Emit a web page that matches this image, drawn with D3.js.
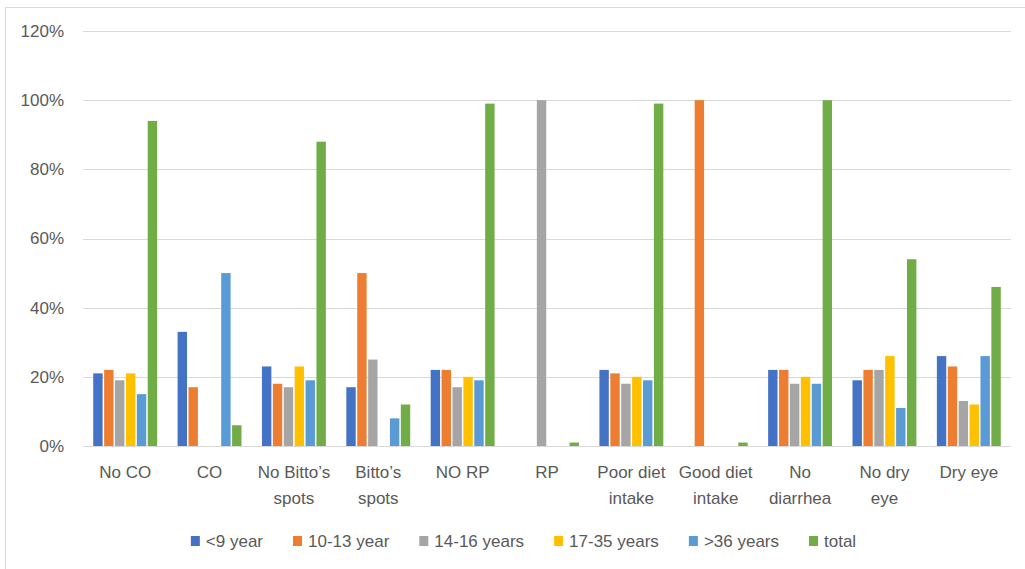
<!DOCTYPE html>
<html>
<head>
<meta charset="utf-8">
<script src="https://cdn.jsdelivr.net/npm/d3@7"></script>
<style>
  body { margin: 0; background: #fff; }
  text { font-family: "Liberation Sans", Arial, sans-serif; fill: #595959; }
</style>
</head>
<body>
<script>
// categories (each label already split into its lines) --
const categories = ["No CO", "CO", "No Bitto’s spots", "Bitto’s spots", "NO RP", "RP",
  "Poor diet intake", "Good diet intake", "No diarrhea", "No dry eye", "Dry eye"];
const catLines = [["No CO"], ["CO"], ["No Bitto’s", "spots"], ["Bitto’s", "spots"], ["NO RP"], ["RP"],
  ["Poor diet", "intake"], ["Good diet", "intake"], ["No", "diarrhea"], ["No dry", "eye"], ["Dry eye"]];

// series, values in % --
const seriesNames = ["<9 year", "10-13 year", "14-16 years", "17-35 years", ">36 years", "total"];
const under9   = [21, 33, 23, 17, 22, 0, 22, 0, 22, 19, 26];
const y10to13  = [22, 17, 18, 50, 22, 0, 21, 100, 22, 22, 23];
const y14to16  = [19, 0, 17, 25, 17, 100, 18, 0, 18, 22, 13];
const y17to35  = [21, 0, 23, 0, 20, 0, 20, 0, 20, 26, 12];
const over36   = [15, 50, 19, 8, 19, 0, 19, 0, 18, 11, 26];
const total    = [94, 6, 88, 12, 99, 1, 99, 1, 100, 54, 46];
const yTicks   = [0, 20, 40, 60, 80, 100, 120];

const colors = ["#4472C4", "#ED7D31", "#A5A5A5", "#FFC000", "#5B9BD5", "#70AD47"];
const seriesValues = [under9, y10to13, y14to16, y17to35, over36, total];

// canvas --
const w = 1025, h = 569;
const plotLeft = 83, plotRight = 1011, plotTop = 31, plotBottom = 446;
const fontSize = 17;

const svg = d3.select("body").append("svg").attr("width", w).attr("height", h);

// chart border (right and bottom edges fall outside the picture)
svg.append("rect")
  .attr("x", 5.5).attr("y", 7.5).attr("width", 1100).attr("height", 700)
  .attr("fill", "none").attr("stroke", "#d9d9d9");

// scales --
const xScale = d3.scaleBand().domain(categories).range([plotLeft, plotRight]);
const inner = d3.scaleBand().domain(seriesNames).range([-32.7, 32.7]);
const yScale = d3.scaleLinear().domain([0, 120]).range([plotBottom, plotTop]);

// gridlines
svg.append("g").selectAll("line")
  .data(yTicks.filter(d => d > 0))
  .enter().append("line")
  .attr("x1", plotLeft).attr("x2", plotRight)
  .attr("y1", d => Math.round(yScale(d)) + 0.5)
  .attr("y2", d => Math.round(yScale(d)) + 0.5)
  .attr("stroke", "#d9d9d9").attr("stroke-width", 1);

// y axis labels
const yAxis = d3.axisLeft(yScale).tickValues(yTicks).tickFormat(d => d + "%").tickSize(0).tickPadding(0);
svg.append("g")
  .attr("transform", "translate(64,0)")
  .call(yAxis)
  .call(g => g.select(".domain").remove())
  .call(g => g.selectAll("text").attr("font-size", fontSize).attr("fill", "#595959")
    .style("font-family", "'Liberation Sans', Arial, sans-serif"));

// bars
seriesNames.forEach((name, si) => {
  svg.append("g").selectAll("rect")
    .data(seriesValues[si].map((v, i) => ({ cat: categories[i], v: v })))
    .enter().append("rect")
    .attr("x", d => xScale(d.cat) + xScale.bandwidth() / 2 + inner(name) + 0.75)
    .attr("width", inner.bandwidth() - 1.5)
    .attr("y", d => yScale(d.v))
    .attr("height", d => plotBottom - yScale(d.v))
    .attr("fill", colors[si]);
});

// x axis line
svg.append("line")
  .attr("x1", plotLeft).attr("x2", plotRight)
  .attr("y1", plotBottom + 0.5).attr("y2", plotBottom + 0.5)
  .attr("stroke", "#d9d9d9");

// category labels
const xAxis = d3.axisBottom(xScale).tickSize(0).tickFormat("");
const xg = svg.append("g").attr("transform", "translate(0," + plotBottom + ")").call(xAxis);
xg.select(".domain").remove();
xg.selectAll(".tick").each(function (d, i) {
  const t = d3.select(this).append("text")
    .attr("text-anchor", "middle").attr("font-size", fontSize).attr("fill", "#595959")
    .style("font-family", "'Liberation Sans', Arial, sans-serif");
  catLines[i].forEach((line, li) => {
    t.append("tspan").attr("x", 0).attr("y", 32 + li * 26).text(line);
  });
});

// legend
const legend = svg.append("g");
let lx = 0;
seriesNames.forEach((name, si) => {
  const item = legend.append("g").attr("transform", "translate(" + lx + ",0)");
  item.append("rect").attr("x", 0).attr("y", 536).attr("width", 9).attr("height", 10).attr("fill", colors[si]);
  const t = item.append("text").attr("x", 15).attr("y", 547).attr("font-size", fontSize).text(name);
  lx += 15 + t.node().getComputedTextLength() + 30;
});
lx -= 30;
legend.attr("transform", "translate(" + (523.5 - lx / 2) + ",0)");
</script>
</body>
</html>
